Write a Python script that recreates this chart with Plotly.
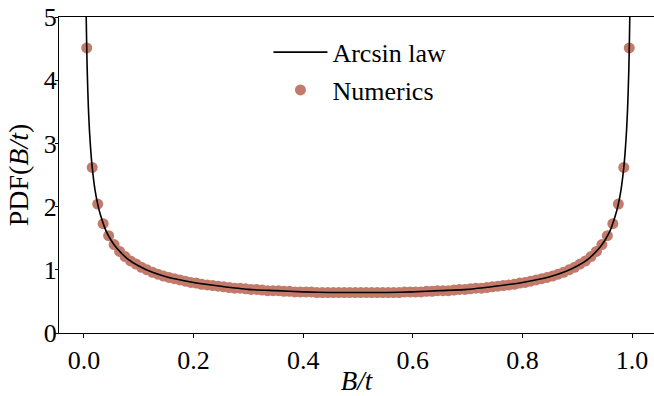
import plotly.graph_objects as go

# Numerics: histogram bin centres and PDF values
num_x = [0.005, 0.015, 0.025, 0.035, 0.045, 0.055, 0.065, 0.075, 0.085, 0.095,
         0.105, 0.115, 0.125, 0.135, 0.145, 0.155, 0.165, 0.175, 0.185, 0.195,
         0.205, 0.215, 0.225, 0.235, 0.245, 0.255, 0.265, 0.275, 0.285, 0.295,
         0.305, 0.315, 0.325, 0.335, 0.345, 0.355, 0.365, 0.375, 0.385, 0.395,
         0.405, 0.415, 0.425, 0.435, 0.445, 0.455, 0.465, 0.475, 0.485, 0.495,
         0.505, 0.515, 0.525, 0.535, 0.545, 0.555, 0.565, 0.575, 0.585, 0.595,
         0.605, 0.615, 0.625, 0.635, 0.645, 0.655, 0.665, 0.675, 0.685, 0.695,
         0.705, 0.715, 0.725, 0.735, 0.745, 0.755, 0.765, 0.775, 0.785, 0.795,
         0.805, 0.815, 0.825, 0.835, 0.845, 0.855, 0.865, 0.875, 0.885, 0.895,
         0.905, 0.915, 0.925, 0.935, 0.945, 0.955, 0.965, 0.975, 0.985, 0.995]
num_y = [4.51, 2.62, 2.04, 1.73, 1.54, 1.40, 1.29, 1.21, 1.14, 1.09,
         1.04, 1.00, 0.96, 0.93, 0.90, 0.88, 0.86, 0.84, 0.82, 0.80,
         0.79, 0.77, 0.76, 0.75, 0.74, 0.73, 0.72, 0.71, 0.71, 0.70,
         0.69, 0.69, 0.68, 0.67, 0.67, 0.67, 0.66, 0.66, 0.65, 0.65,
         0.65, 0.65, 0.64, 0.64, 0.64, 0.64, 0.64, 0.64, 0.64, 0.64,
         0.64, 0.64, 0.64, 0.64, 0.64, 0.64, 0.64, 0.64, 0.65, 0.65,
         0.65, 0.65, 0.66, 0.66, 0.67, 0.67, 0.67, 0.68, 0.69, 0.69,
         0.70, 0.71, 0.71, 0.72, 0.73, 0.74, 0.75, 0.76, 0.77, 0.79,
         0.80, 0.82, 0.84, 0.86, 0.88, 0.90, 0.93, 0.96, 1.00, 1.04,
         1.09, 1.14, 1.21, 1.29, 1.40, 1.54, 1.73, 2.04, 2.62, 4.51]

# Arcsin law curve
law_x = [0.002, 0.003, 0.004, 0.005, 0.006, 0.008, 0.01, 0.0125, 0.015, 0.02,
         0.025, 0.03, 0.04, 0.05, 0.06, 0.08, 0.1, 0.125, 0.15, 0.2,
         0.25, 0.3, 0.35, 0.4, 0.45, 0.5, 0.55, 0.6, 0.65, 0.7,
         0.75, 0.8, 0.85, 0.875, 0.9, 0.92, 0.94, 0.95, 0.96, 0.97,
         0.975, 0.98, 0.985, 0.9875, 0.99, 0.992, 0.994, 0.995, 0.996, 0.997, 0.998]
law_y = [7.13, 5.82, 5.04, 4.51, 4.12, 3.57, 3.20, 2.87, 2.62, 2.27,
         2.04, 1.87, 1.62, 1.46, 1.34, 1.17, 1.06, 0.96, 0.89, 0.80,
         0.74, 0.69, 0.67, 0.65, 0.64, 0.64, 0.64, 0.65, 0.67, 0.69,
         0.74, 0.80, 0.89, 0.96, 1.06, 1.17, 1.34, 1.46, 1.62, 1.87,
         2.04, 2.27, 2.62, 2.87, 3.20, 3.57, 4.12, 4.51, 5.04, 5.82, 7.13]

x_ticks = [0.0, 0.2, 0.4, 0.6, 0.8, 1.0]
x_tick_text = ["0.0", "0.2", "0.4", "0.6", "0.8", "1.0"]
y_ticks = [0, 1, 2, 3, 4, 5]

FONT = "Liberation Serif, Times New Roman, serif"

fig = go.Figure()
fig.add_trace(go.Scatter(
    x=num_x, y=num_y, mode="markers", name="Numerics", legendgroup="b",
    legendrank=2,
    marker=dict(color="#c27a6a", size=11, line=dict(width=0)),
))
fig.add_trace(go.Scatter(
    x=law_x, y=law_y, mode="lines", name="Arcsin law", legendgroup="a",
    legendrank=1,
    line=dict(color="black", width=1.6, shape="spline", smoothing=0.6),
))

fig.update_layout(
    width=654, height=396,
    margin=dict(l=59, r=0, t=17, b=52),
    paper_bgcolor="white", plot_bgcolor="white",
    font=dict(family=FONT, size=26, color="black"),
    showlegend=True,
    legend=dict(
        x=0.352, y=0.963, xanchor="left", yanchor="top",
        traceorder="grouped",
        font=dict(family=FONT, size=26),
        bgcolor="rgba(0,0,0,0)", itemwidth=54,
        tracegroupgap=1,
    ),
    xaxis=dict(
        range=[-0.0456, 1.0401], tickvals=x_ticks, ticktext=x_tick_text,
        showgrid=False, zeroline=False, showline=True, linecolor="black",
        linewidth=1.2, mirror=True, ticks="outside", ticklen=4,
        tickcolor="black", tickfont=dict(size=26),
        title=dict(text="<i>B/t</i>", font=dict(size=27), standoff=2),
    ),
    yaxis=dict(
        range=[0, 5], tickvals=y_ticks,
        showgrid=False, zeroline=False, showline=True, linecolor="black",
        linewidth=1.2, mirror=False, ticks="outside", ticklen=3,
        tickcolor="black", tickfont=dict(size=26), ticklabelstandoff=-7,
        title=dict(text="PDF(<i>B/t</i>)", font=dict(size=28), standoff=6),
    ),
)

fig.write_html("out.html")
